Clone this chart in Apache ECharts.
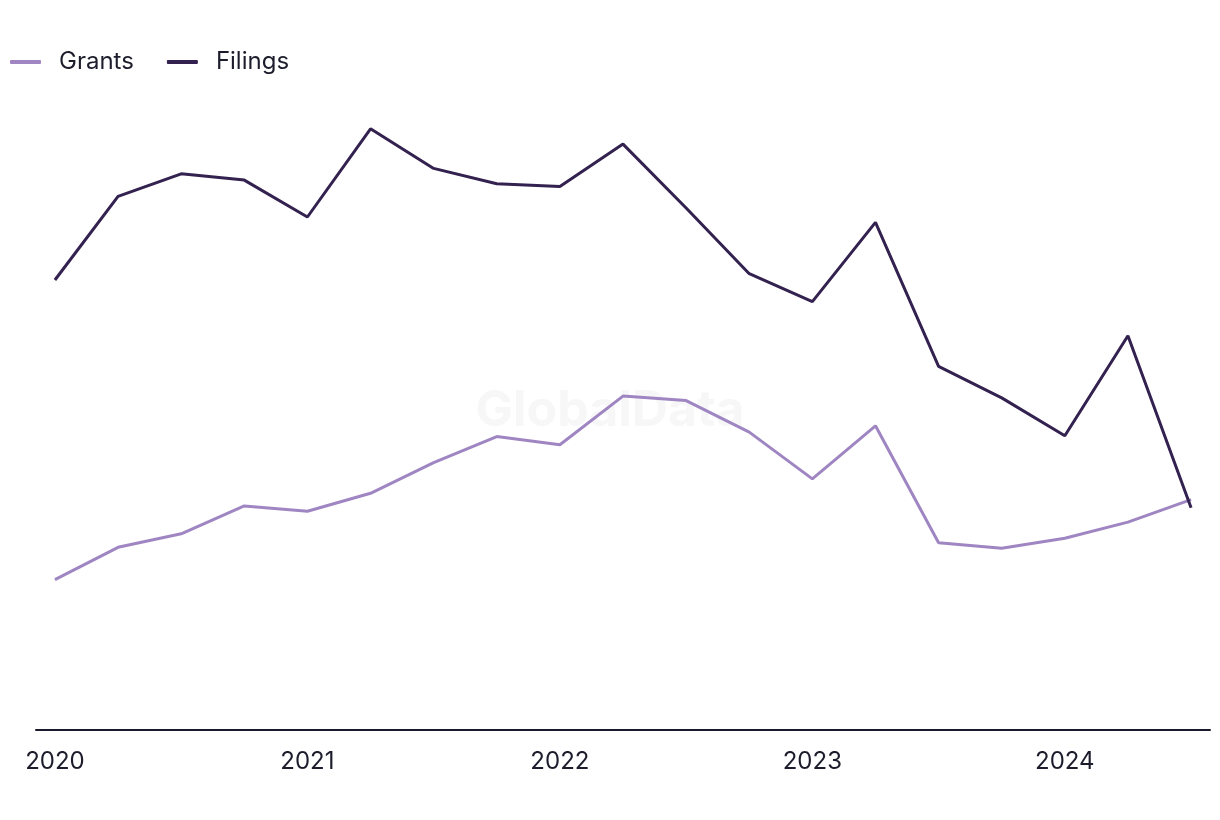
<!DOCTYPE html>
<html>
<head>
<meta charset="utf-8">
<script src="https://cdn.jsdelivr.net/npm/echarts@6/dist/echarts.min.js"></script>
<style>
html,body{margin:0;padding:0;background:#fff;}
#chart{width:1220px;height:820px;}
</style>
</head>
<body>
<div id="chart"></div>
<script>
// Quarterly periods, 2020 Q1 .. 2024 Q3
var quarters = ['2020 Q1','2020 Q2','2020 Q3','2020 Q4','2021 Q1','2021 Q2','2021 Q3','2021 Q4',
  '2022 Q1','2022 Q2','2022 Q3','2022 Q4','2023 Q1','2023 Q2','2023 Q3','2023 Q4',
  '2024 Q1','2024 Q2','2024 Q3'];
var yearTicks = [0, 4, 8, 12, 16];
var yearLabels = ['2020', '2021', '2022', '2023', '2024'];
var grants = [16.7, 20.3, 21.8, 24.9, 24.3, 26.3, 29.7, 32.6, 31.7, 37.1, 36.6, 33.1, 27.9, 33.8, 20.8, 20.2, 21.3, 23.1, 25.6];
var filings = [50.0, 59.3, 61.8, 61.1, 57.0, 66.8, 62.4, 60.7, 60.4, 65.1, 58.0, 50.7, 47.6, 56.4, 40.4, 36.9, 32.7, 43.8, 24.7];

function pairs(arr){ return arr.map(function(v,i){ return [i, v]; }); }

var chart = echarts.init(document.getElementById('chart'));
chart.setOption({
  backgroundColor: '#ffffff',
  animation: false,
  textStyle: { fontFamily: 'Inter, "Liberation Sans", sans-serif' },
  graphic: [{
    type: 'text',
    left: 'center',
    top: 386,
    style: {
      text: 'GlobalData',
      fontSize: 50,
      fontWeight: 'bold',
      fontFamily: 'Inter, "Liberation Sans", sans-serif',
      fill: '#f7f7f7'
    },
    z: 0
  }],
  legend: {
    left: 5,
    top: 45,
    itemWidth: 31,
    itemHeight: 4,
    itemGap: 33,
    icon: 'roundRect',
    textStyle: { fontSize: 24, color: '#1c1c2c', padding: [0, 0, 0, 13] },
    data: ['Grants', 'Filings']
  },
  grid: { left: 36, right: 10, top: 100, bottom: 90, containLabel: false },
  xAxis: {
    type: 'value',
    min: -0.3,
    max: 18.3,
    splitLine: { show: false },
    axisTick: { show: false },
    axisLine: { show: true, lineStyle: { color: '#1a1a2e', width: 2 } },
    axisLabel: {
      customValues: yearTicks,
      margin: 20,
      fontSize: 24,
      color: '#1c1c2c',
      formatter: function(v){ var k = yearTicks.indexOf(v); return k >= 0 ? yearLabels[k] : ''; }
    }
  },
  yAxis: {
    type: 'value',
    min: 0,
    max: 70,
    show: false,
    splitLine: { show: false }
  },
  series: [
    {
      name: 'Grants',
      type: 'line',
      data: pairs(grants),
      symbol: 'none',
      z: 3,
      lineStyle: { color: '#9f86c2', width: 3 },
      itemStyle: { color: '#9f86c2' }
    },
    {
      name: 'Filings',
      type: 'line',
      data: pairs(filings),
      symbol: 'none',
      z: 4,
      lineStyle: { color: '#33214f', width: 3 },
      itemStyle: { color: '#33214f' }
    }
  ]
});
</script>
</body>
</html>
